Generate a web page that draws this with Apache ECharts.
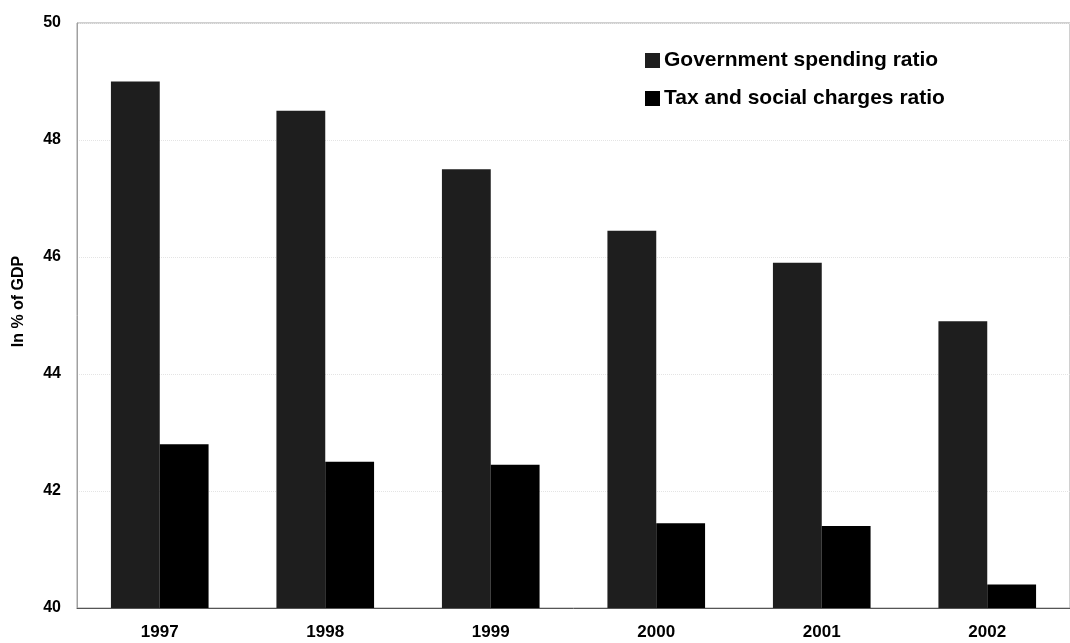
<!DOCTYPE html>
<html>
<head>
<meta charset="utf-8">
<script src="https://cdn.jsdelivr.net/npm/echarts@6/dist/echarts.min.js"></script>
<style>
html,body{margin:0;padding:0;background:#fff}
#chart{width:1070px;height:643px}
</style>
</head>
<body>
<div id="chart"></div>
<script>
// data
var years = ['1997', '1998', '1999', '2000', '2001', '2002'];
var spendingRatio = [49.0, 48.5, 47.5, 46.45, 45.9, 44.9];
var taxRatio = [42.8, 42.5, 42.45, 41.45, 41.4, 40.4];
var yTicks = { min: 40, max: 50, step: 2 };

var font = '"Liberation Sans", Arial, sans-serif';
var myChart = echarts.init(document.getElementById('chart'));
var option = {
  animation: false,
  grid: {
    left: 77,
    right: 0,
    top: 23,
    bottom: 35,
    show: true,
    borderColor: '#a0a0a0',
    borderWidth: 1
  },
  legend: {
    orient: 'vertical',
    left: 645,
    top: 50,
    padding: 0,
    icon: 'rect',
    itemWidth: 15,
    itemHeight: 15,
    itemGap: 17,
    textStyle: { fontFamily: font, fontSize: 21, fontWeight: 'bold', color: '#000', padding: [0, 0, 0, -1] },
    data: ['Government spending ratio', 'Tax and social charges ratio']
  },
  xAxis: {
    type: 'category',
    data: years,
    axisLine: { show: true, lineStyle: { color: '#555', width: 1 } },
    axisTick: { show: false },
    axisLabel: { fontFamily: font, fontSize: 17, fontWeight: 'bold', color: '#000', margin: 16 }
  },
  yAxis: {
    type: 'value',
    min: yTicks.min,
    max: yTicks.max,
    interval: yTicks.step,
    name: 'In % of GDP',
    nameLocation: 'middle',
    nameGap: 50,
    nameTextStyle: { fontFamily: font, fontSize: 16, fontWeight: 'bold', color: '#000', padding: [0, 0, 0, 28] },
    axisLine: { show: true, lineStyle: { color: '#a0a0a0' } },
    axisTick: { show: false },
    axisLabel: { fontFamily: font, fontSize: 16, fontWeight: 'bold', color: '#000', margin: 16 },
    splitLine: { show: true, lineStyle: { color: '#e4e4e4', type: 'dotted' } }
  },
  series: [
    {
      name: 'Government spending ratio',
      type: 'bar',
      data: spendingRatio,
      barWidth: '29.5%',
      barGap: '0%',
      itemStyle: { color: '#1e1e1e' }
    },
    {
      name: 'Tax and social charges ratio',
      type: 'bar',
      data: taxRatio,
      barWidth: '29.5%',
      itemStyle: { color: '#000' }
    }
  ]
};
myChart.setOption(option);
</script>
</body>
</html>
